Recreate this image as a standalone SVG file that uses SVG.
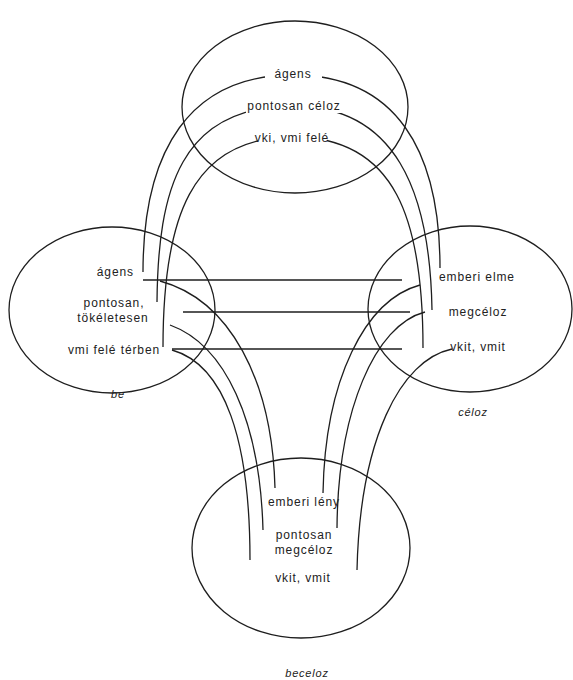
<svg xmlns="http://www.w3.org/2000/svg" width="573" height="680" viewBox="0 0 573 680">
<style>
.n{fill:none;stroke:#1e1e1e;stroke-width:1.3}
.c{fill:none;stroke:#1e1e1e;stroke-width:1.3}
.t{font-family:"Liberation Sans",Arial,sans-serif;font-size:12px;letter-spacing:0.9px;fill:#222}
.m{text-anchor:middle}
.e{text-anchor:end}
.i{font-family:"Liberation Sans",Arial,sans-serif;font-size:11px;font-style:italic;fill:#222;text-anchor:middle;letter-spacing:0.8px}
.bg{fill:#fff}
</style>
<rect width="573" height="680" fill="#fff"/>
<g id="node-top"><ellipse class="n" cx="295" cy="107" rx="113" ry="86"/></g>
<g id="node-be"><ellipse class="n" cx="112" cy="310" rx="103" ry="83"/></g>
<g id="node-celoz"><ellipse class="n" cx="470" cy="309" rx="102" ry="83"/></g>
<g id="node-beceloz"><ellipse class="n" cx="301" cy="548" rx="109" ry="90"/></g>
<g id="connectors">
<path class="c" d="M143,272 C143,150 190,75 293,75 C396,75 440,150 440,268"/>
<path class="c" d="M157,302 C158,190 180,106 293,106 C395,106 430,190 432,310"/>
<path class="c" d="M163,347 C163,220 190,137 293,137 C396,137 423,220 423,348"/>
<line class="c" x1="143" y1="280" x2="402" y2="280"/>
<line class="c" x1="183" y1="312" x2="410" y2="312"/>
<line class="c" x1="172" y1="349" x2="402" y2="349"/>
<path class="c" d="M160,281 C230,300 272,380 275,488"/>
<path class="c" d="M170,325 C225,345 260,420 263,530"/>
<path class="c" d="M172,350 C225,365 250,440 250,560"/>
<path class="c" d="M420,285 C365,300 325,380 323,493"/>
<path class="c" d="M425,312 C375,325 338,410 337,528"/>
<path class="c" d="M452,349 C400,360 360,440 357,570"/>
</g>
<g id="labels-top">
<rect class="bg" x="265" y="67" width="57" height="14"/>
<text class="t m" x="293" y="78">ágens</text>
<rect class="bg" x="246" y="99" width="96" height="14"/>
<text class="t m" x="294" y="110">pontosan céloz</text>
<rect class="bg" x="258" y="131" width="69" height="14"/>
<text class="t m" x="292" y="142">vki, vmi felé</text>
</g>
<g id="labels-be">
<text class="t e" x="134" y="276">ágens</text>
<text class="t m" x="114" y="307">pontosan,</text>
<text class="t m" x="113" y="322">tökéletesen</text>
<text class="t m" x="114" y="354">vmi felé térben</text>
<text class="i" x="118" y="398">be</text>
</g>
<g id="labels-celoz">
<text class="t" x="439" y="281">emberi elme</text>
<text class="t m" x="478" y="316">megcéloz</text>
<text class="t m" x="478" y="351">vkit, vmit</text>
<text class="i" x="473" y="416">céloz</text>
</g>
<g id="labels-beceloz">
<text class="t m" x="304" y="506">emberi lény</text>
<text class="t m" x="304" y="539">pontosan</text>
<text class="t m" x="304" y="554">megcéloz</text>
<text class="t m" x="303" y="582">vkit, vmit</text>
<text class="i" x="307" y="677">beceloz</text>
</g>
</svg>
